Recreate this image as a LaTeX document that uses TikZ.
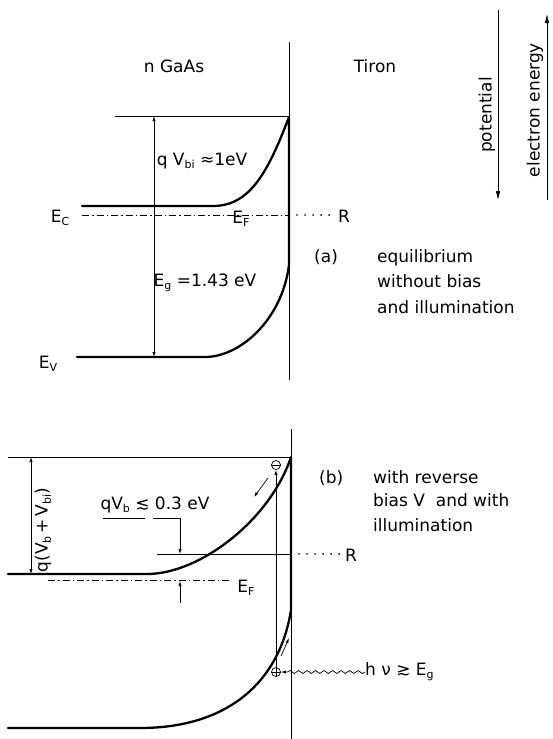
\documentclass[tikz,border=0pt]{standalone}
\usepackage{fontspec}
\setmainfont{DejaVu Sans}
\usetikzlibrary{arrows.meta,decorations.pathmorphing,calc}
\newcommand\lsub[1]{\raisebox{-0.35ex}{\fontsize{11}{11}\selectfont #1}}
\begin{document}
\begin{tikzpicture}[x=1pt,y=-1pt,
  thinl/.style={line width=0.7pt},
  band/.style={line width=2.3pt, line cap=round, line join=round},
  dashdot/.style={line width=0.8pt, dash pattern=on 7pt off 3pt on 1.5pt off 3pt},
  dotline/.style={line width=1.9pt, line cap=round, dash pattern=on 0.01pt off 8pt},
  lbl/.style={font=\fontsize{17}{20}\selectfont, inner sep=0pt},
  tip/.style={-{Latex[length=5pt,width=3.2pt]}},
  dtip/.style={{Latex[length=5pt,width=3.2pt]}-{Latex[length=5pt,width=3.2pt]}},
  bigtip/.style={-{Latex[length=9pt,width=4.5pt]}},
  charge/.style={circle, draw, line width=0.7pt, minimum size=9pt, inner sep=0pt}
]
\useasboundingbox (0,0) rectangle (552,739);

% ---------- headings and axes ----------
\node[lbl] (hGaAs) at (174,66) {n GaAs};
\node[lbl] (hTiron) at (375,66) {Tiron};
\coordinate (potT) at (498,10); \coordinate (potB) at (498,200);
\draw[thinl, bigtip] (potT) -- (potB);
\node[lbl, rotate=90] (tpot) at (487,115) {potential};
\coordinate (eeB) at (547,200); \coordinate (eeT) at (547,14);
\draw[thinl, bigtip] (eeB) -- (eeT);
\node[lbl, rotate=90] (tee) at (535,110) {electron energy};

% ---------- panel (a) ----------
\coordinate (aIfT) at (289,42); \coordinate (aIfB) at (289,380);
\draw[thinl] (aIfT) -- (aIfB);
\coordinate (aTopL) at (115,116); \coordinate (aTopR) at (289,116);
\draw[thinl] (aTopL) -- (aTopR);
\draw[band] (82,206) -- (213,206) .. controls (250,206) and (268,172) .. (289,117)
  -- (289,265) .. controls (282,320) and (240,357) .. (205,357) -- (77,357);
\coordinate (aEfL) at (82,215); \coordinate (aEfR) at (289,215);
\draw[dashdot] (aEfL) -- (aEfR);
\coordinate (aRdL) at (297,215); \coordinate (aRdR) at (335,215);
\draw[dotline] (aRdL) -- (aRdR);
\node[lbl] (aR) at (344,216) {R};
\coordinate (aArT) at (154,116); \coordinate (aArB) at (154,357);
\draw[thinl, dtip] (aArT) -- (aArB);
\node[lbl] (aEc) at (60,218) {E\lsub{C}};
\node[lbl] (aEf) at (241,219) {E\lsub{F}};
\node[lbl] (aEv) at (48,364) {E\lsub{V}};
\node[lbl] (aVbi) at (202,161) {q V\lsub{bi} ≈1eV};
\node[lbl] (aEg) at (205,283) {E\lsub{g} =1.43 eV};
\node[lbl, anchor=base west] (aLab) at (314,262) {(a)};
\node[lbl, anchor=base west] (aT1) at (377,262) {equilibrium};
\node[lbl, anchor=base west] (aT2) at (377,287) {without bias};
\node[lbl, anchor=base west] (aT3) at (377,313) {and illumination};

% ---------- panel (b) ----------
\coordinate (bIfT) at (291,429); \coordinate (bIfB) at (291,739);
\draw[thinl] (bIfT) -- (bIfB);
\coordinate (bTopL) at (8,457); \coordinate (bTopR) at (291,457);
\draw[thinl] (bTopL) -- (bTopR);
\draw[band] (8,574) -- (147,574) .. controls (200,574) and (270,520) .. (291,457)
  -- (291,610) .. controls (280,680) and (230,728) .. (140,728) -- (8,728);
\coordinate (bArT) at (31,457); \coordinate (bArB) at (31,574);
\draw[thinl, dtip] (bArT) -- (bArB);
\node[lbl, rotate=90] (bVlab) at (43,530) {q(V\lsub{b}\,+\,V\lsub{bi})};
\node[lbl] (bVb) at (155,505) {qV\lsub{b} ≲ 0.3 eV};
\coordinate (bBr1) at (103,518); \coordinate (bBr2) at (145,518);
\coordinate (bBr3) at (153,518); \coordinate (bBr4) at (180,518);
\coordinate (bBr5) at (180,554);
\draw[thinl] (bBr1) -- (bBr2);
\draw[thinl, tip] (bBr3) -- (bBr4) -- (bBr5);
\coordinate (bRL) at (157,554); \coordinate (bRR) at (291,554);
\draw[thinl] (bRL) -- (bRR);
\coordinate (bRdL) at (299,554); \coordinate (bRdR) at (341,554);
\draw[dotline] (bRdL) -- (bRdR);
\node[lbl] (bR) at (351,555) {R};
\coordinate (bEfL) at (48,580); \coordinate (bEfR) at (232,580);
\draw[dashdot] (bEfL) -- (bEfR);
\node[lbl] (bEf) at (246,588) {E\lsub{F}};
\coordinate (bAr2B) at (180,603); \coordinate (bAr2T) at (180,581);
\draw[thinl, tip] (bAr2B) -- (bAr2T);
% charges
\node[charge] (minus) at (276,465) {};
\draw[thinl] (minus.west) -- (minus.east);
\node[charge] (plus) at (276,672) {};
\draw[thinl] (plus.west) -- (plus.east) (plus.north) -- (plus.south);
\draw[thinl, tip] (plus.north) -- (minus.south);
\coordinate (eA) at (268,478); \coordinate (eB) at (254,497);
\draw[thinl, tip] (eA) -- (eB);
\coordinate (hA) at (281,656); \coordinate (hB) at (289,638);
\draw[thinl, tip] (hA) -- (hB);
\node[lbl, anchor=west] (hv) at (365,672) {h ν ≳ E\lsub{g}};
\draw[thinl, decorate, decoration={snake, amplitude=1.5pt, segment length=8.5pt, post length=6pt}, tip]
  (hv.west) -- (plus.east);
\node[lbl, anchor=base west] (bLab) at (319,483) {(b)};
\node[lbl, anchor=base west] (bT1) at (373,483) {with reverse};
\node[lbl, anchor=base west] (bT2) at (373,506) {bias V~~and with};
\node[lbl, anchor=base west] (bT3) at (373,531) {illumination};
\end{tikzpicture}
\end{document}
